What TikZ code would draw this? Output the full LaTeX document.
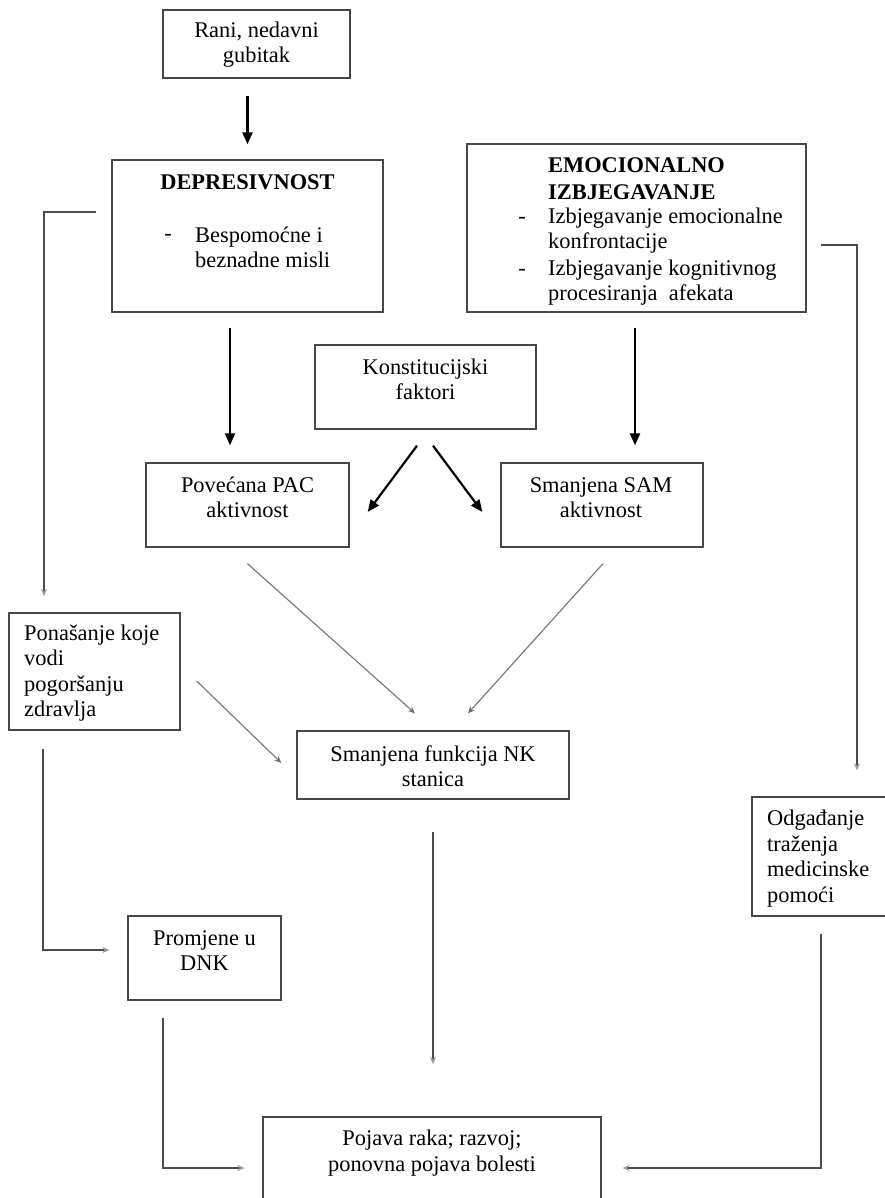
\documentclass[tikz,border=0pt]{standalone}
\usepackage{fontspec}
\setmainfont{Liberation Serif}
\usetikzlibrary{arrows.meta,calc}
\begin{document}
\begin{tikzpicture}[x=1pt,y=-1pt,
  box/.style={draw=black!72, line width=1.3pt, inner sep=0pt},
  txt/.style={inner sep=0pt, font=\fontsize{22.4}{25.5}\selectfont},
  btxt/.style={inner sep=0pt, font=\fontsize{22.4}{27}\selectfont\bfseries},
  blk/.style={draw=black, line width=2.2pt, -{Triangle[length=12pt,width=10pt]}},
  gry/.style={draw=black!55, line width=1.1pt, -{Stealth[length=7pt,width=6pt]}},
  elb/.style={draw=black!70, line width=1.1pt, -{Stealth[length=7pt,width=6pt,color=black!40]}}
]
\useasboundingbox (0,0) rectangle (885,1198);
\clip (0,0) rectangle (885,1198);

% boxes
\node[box, minimum width=187pt, minimum height=68pt] (rani) at (256.5,44) {};
\node[box, minimum width=271pt, minimum height=152pt] (dep) at (247.5,236) {};
\node[box, minimum width=339pt, minimum height=168pt] (emo) at (636.5,228) {};
\node[box, minimum width=221pt, minimum height=84pt] (konst) at (425.5,387) {};
\node[box, minimum width=203pt, minimum height=84pt] (pac) at (247.5,505) {};
\node[box, minimum width=202pt, minimum height=84pt] (sam) at (602,505) {};
\node[box, minimum width=171pt, minimum height=117pt] (pon) at (94.5,671.5) {};
\node[box, minimum width=272pt, minimum height=68pt] (nk) at (433,765) {};
\node[box, minimum width=153pt, minimum height=84pt] (prom) at (204.5,958) {};
\node[box, minimum width=138pt, minimum height=119pt] (odg) at (821,856.5) {};
\node[box, minimum width=338pt, minimum height=83pt] (poj) at (432,1158.5) {};

% texts
\node[txt, align=center] (t-rani) at (256.5,44.5) {Rani, nedavni\\gubitak};
\node[txt, font=\fontsize{22.4}{25.5}\selectfont\bfseries] (t-dep) at (247.5,182) {DEPRESIVNOST};
\node[txt] (d-dep) at (168,237) {-};
\node[txt, align=left, anchor=west] (t-dep2) at (195,247.5) {Bespomoćne i\\beznadne misli};
\node[btxt, align=left, anchor=west] (t-emo) at (548,178.5) {EMOCIONALNO\\IZBJEGAVANJE};
\node[txt] (d-emo1) at (522,220) {-};
\node[txt, align=left, anchor=west] (t-emo1) at (548,230.5) {Izbjegavanje emocionalne\\konfrontacije};
\node[txt] (d-emo2) at (522,272) {-};
\node[txt, align=left, anchor=west] (t-emo2) at (548,282.5) {Izbjegavanje kognitivnog\\procesiranja\ \ afekata};
\node[txt, align=center] (t-konst) at (425.5,379.5) {Konstitucijski\\faktori};
\node[txt, align=center] (t-pac) at (247.5,497.5) {Povećana PAC\\aktivnost};
\node[txt, align=center] (t-sam) at (601,497.5) {Smanjena SAM\\aktivnost};
\node[txt, align=left, anchor=west] (t-pon) at (24,673) {Ponašanje koje\\vodi\\pogoršanju\\zdravlja};
\node[txt, align=center] (t-nk) at (433,766) {Smanjena funkcija NK\\stanica};
\node[txt, align=center] (t-prom) at (204.5,950.5) {Promjene u\\DNK};
\node[txt, align=left, anchor=west] (t-odg) at (767,858.5) {Odgađanje\\traženja\\medicinske\\pomoći};
\node[txt, align=center] (t-poj) at (432,1153) {Pojava raka; razvoj;\\ponovna pojava bolesti};

% black arrows
\draw[blk, shorten <=17pt, shorten >=15pt] (rani.south -| dep.north) -- (dep.north);
\draw[blk, shorten <=15pt, shorten >=17pt] ([xshift=-17.5pt]dep.south) -- ([xshift=-17.5pt]dep.south |- pac.north);
\draw[blk, shorten <=15pt, shorten >=17pt] ([xshift=-1.5pt]emo.south) -- ([xshift=-1.5pt]emo.south |- sam.north);
\coordinate (k1) at ($(konst.south)+(-8.5,16)$);
\coordinate (k2) at ($(konst.south)+(7.5,16)$);
\coordinate (p1) at ($(pac.east)+(18,7)$);
\coordinate (s1) at ($(sam.west)+(-18,7)$);
\draw[blk] (k1) -- (p1);
\draw[blk] (k2) -- (s1);

% gray diagonal arrows
\coordinate (pa) at ($(pac.south)+(0,16)$);
\coordinate (na) at ($(nk.north)+(-18,-17)$);
\coordinate (sa) at ($(sam.south)+(1,16)$);
\coordinate (nb) at ($(nk.north)+(35,-17)$);
\coordinate (po) at ($(pon.east)+(16,9.5)$);
\coordinate (nc) at ($(nk.west)+(-15,-2)$);
\draw[gry] (pa) -- (na);
\draw[gry] (sa) -- (nb);
\draw[gry] (po) -- (nc);

% elbow connectors
\coordinate (e1) at ($(dep.west)+(-15,-24)$);
\coordinate (e2) at (44,596);
\draw[elb] (e1) -| (e2);
\coordinate (f1) at (43,749);
\coordinate (f2) at ($(prom.west)+(-18,-8)$);
\draw[elb] (f1) |- (f2);
\coordinate (g1) at (163,1018);
\coordinate (g2) at ($(poj.west)+(-18,9.5)$);
\draw[elb] (g1) |- (g2);
\coordinate (h1) at ($(nk.south)+(0,32)$);
\coordinate (h2) at (433,1064);
\draw[elb] (h1) -- (h2);
\coordinate (i1) at ($(emo.east)+(14,17)$);
\coordinate (i2) at ($(odg.north)+(36,-26)$);
\draw[elb] (i1) -| (i2);
\coordinate (j1) at ($(odg.south)+(0,17)$);
\coordinate (j2) at ($(poj.east)+(21,9.5)$);
\draw[elb] (j1) |- (j2);
\end{tikzpicture}
\end{document}
